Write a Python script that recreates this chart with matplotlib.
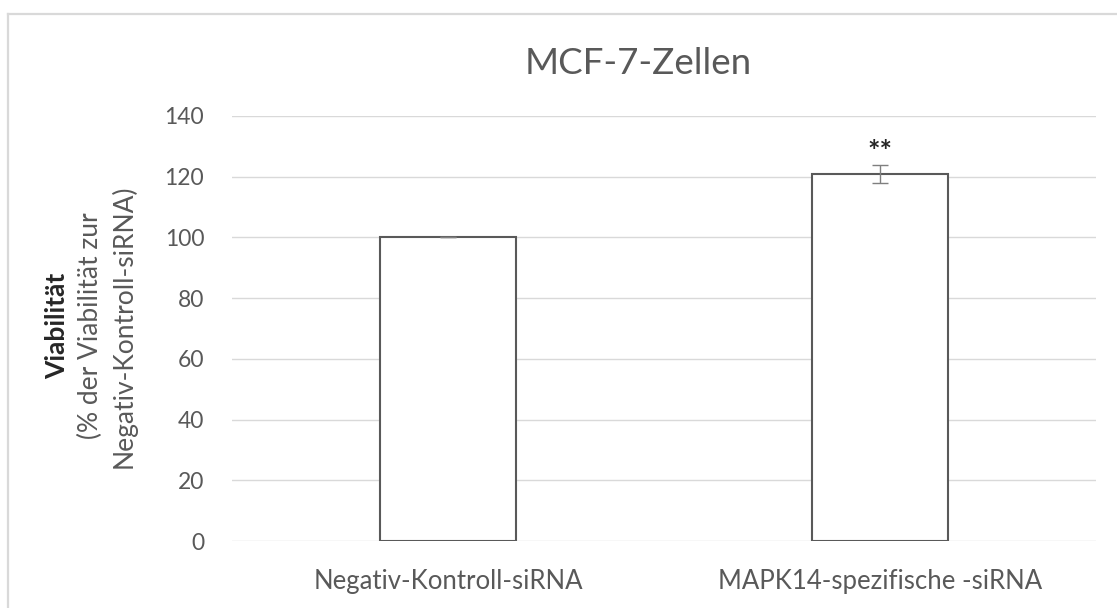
import matplotlib
matplotlib.use("Agg")
import matplotlib.pyplot as plt
from matplotlib.lines import Line2D

categories = ["Negativ-Kontroll-siRNA", "MAPK14-spezifische -siRNA"]
values = [100, 120.8]
errors = [0, 3.0]
significance = ["", "**"]
yticks = [0, 20, 40, 60, 80, 100, 120, 140]

plt.rcParams['font.family'] = ['Lato', 'DejaVu Sans']

W, H = 1117, 608
fig = plt.figure(figsize=(W / 100, H / 100), dpi=100)
fig.patch.set_facecolor('white')

# chart-area border (cropped on right and bottom)
fig.add_artist(Line2D([8 / W, 8 / W], [0, 1 - 14 / H], transform=fig.transFigure,
                      color='#d9d9d9', lw=1.6))
fig.add_artist(Line2D([8 / W, 1], [1 - 14 / H, 1 - 14 / H], transform=fig.transFigure,
                      color='#d9d9d9', lw=1.6))

left, right = 232 / W, 1096 / W
bottom, top = 1 - 541 / H, 1 - 116 / H
ax = fig.add_axes([left, bottom, right - left, top - bottom])

x = list(range(len(categories)))
ax.bar(x, values, width=0.317, color='white', edgecolor='#595959', linewidth=1.5, zorder=3)
ax.errorbar(x, values, yerr=errors, fmt='none', ecolor='#7f7f7f', elinewidth=1.0,
            capsize=6, capthick=1.0, zorder=4)
for xi, v, e, s in zip(x, values, errors, significance):
    if s:
        ax.text(xi, v + e + 4.2, s, ha='center', va='center', fontsize=21,
                fontweight='bold', color='#262626')

ax.set_xlim(-0.5, 1.5)
ax.set_ylim(0, 140)
ax.set_yticks(yticks)
ax.set_yticklabels([str(t) for t in yticks])
ax.set_xticks(x)
ax.set_xticklabels(categories)
ax.grid(axis='y', color='#d9d9d9', lw=1.0, zorder=0)
ax.set_axisbelow(True)
for s in ['top', 'right', 'left', 'bottom']:
    ax.spines[s].set_visible(False)
ax.tick_params(axis='y', length=0, pad=20, labelsize=16.5, labelcolor='#595959')
ax.tick_params(axis='x', length=0, pad=20, labelsize=18.5, labelcolor='#595959')

# title
fig.text(638 / W, 1 - 63 / H, "MCF-7-Zellen", ha='center', va='center',
         fontsize=26.5, color='#595959')

# y label (three lines)
fig.text(57 / W, 1 - 326 / H, "Viabilität", rotation=90, ha='center', va='center',
         fontsize=19, fontweight='bold', color='#262626')
fig.text(90 / W, 1 - 326 / H, "(% der Viabilität zur", rotation=90, ha='center', va='center',
         fontsize=19, color='#595959')
fig.text(124 / W, 1 - 326 / H, "Negativ-Kontroll-siRNA)", rotation=90, ha='center', va='center',
         fontsize=19, color='#595959')

fig.savefig("out.png", dpi=100, facecolor='white')
